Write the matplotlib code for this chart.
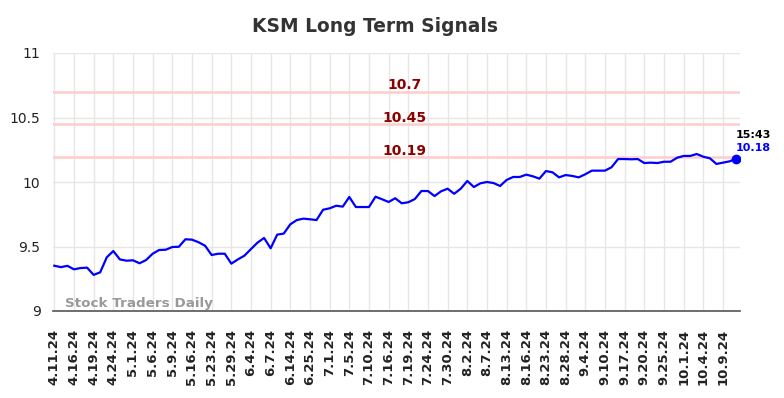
import matplotlib.pyplot as plt
import matplotlib.transforms as mtransforms

# DATOS

tick_labels = ['4.11.24', '4.16.24', '4.19.24', '4.24.24', '5.1.24', '5.6.24', '5.9.24',
               '5.16.24', '5.23.24', '5.29.24', '6.4.24', '6.7.24', '6.14.24', '6.25.24',
               '7.1.24', '7.5.24', '7.10.24', '7.16.24', '7.19.24', '7.24.24', '7.30.24',
               '8.2.24', '8.7.24', '8.13.24', '8.16.24', '8.23.24', '8.28.24', '9.4.24',
               '9.10.24', '9.17.24', '9.20.24', '9.25.24', '10.1.24', '10.4.24', '10.9.24']

precios = [9.351, 9.340, 9.350, 9.323, 9.333, 9.336, 9.280, 9.300, 9.416, 9.465,
           9.400, 9.390, 9.393, 9.370, 9.395, 9.444, 9.473, 9.475, 9.496, 9.498,
           9.556, 9.553, 9.533, 9.506, 9.434, 9.444, 9.444, 9.367, 9.400, 9.429,
           9.480, 9.530, 9.566, 9.486, 9.592, 9.600, 9.672, 9.705, 9.716, 9.711,
           9.705, 9.785, 9.796, 9.816, 9.809, 9.884, 9.806, 9.806, 9.806, 9.886,
           9.866, 9.845, 9.874, 9.835, 9.843, 9.868, 9.930, 9.930, 9.891, 9.928,
           9.948, 9.909, 9.948, 10.008, 9.961, 9.990, 10.000, 9.992, 9.969, 10.016,
           10.039, 10.039, 10.057, 10.044, 10.026, 10.085, 10.075, 10.036, 10.054, 10.047,
           10.036, 10.060, 10.088, 10.088, 10.088, 10.114, 10.178, 10.178, 10.176, 10.178,
           10.147, 10.150, 10.147, 10.157, 10.157, 10.188, 10.202, 10.202, 10.217, 10.196,
           10.184, 10.140, 10.150, 10.160, 10.180]

niveles = [10.7, 10.45, 10.19]
hora = '15:43'
ultimo = '10.18'

#-----------------------------------------------------------------#

# PLOT

fig = plt.figure(figsize=(7.84, 3.98), dpi=100)
ax = fig.add_axes([53 / 784, 1 - 311 / 398, 687 / 784, 258 / 398])

x = list(range(len(precios)))
ax.plot(x, precios, color='#0000ff', lw=1.6, zorder=3)
ax.plot(x[-1], precios[-1], 'o', color='#0000ff', ms=6, zorder=4)

# Lineas de niveles
trans = mtransforms.blended_transform_factory(ax.transAxes, ax.transData)
for nivel in niveles:
    ax.axhline(nivel, color='#ffcccc', lw=1.8, zorder=2)
    ax.text(0.512, nivel - 0.005, str(nivel), transform=trans,
            ha='center', va='bottom', color='#8b0000', fontsize=10, fontweight='bold')

ax.set_ylim(9, 11)
ax.set_xlim(-0.2, 104.6)
ax.set_yticks([9, 9.5, 10, 10.5, 11])
ax.set_yticklabels(['9', '9.5', '10', '10.5', '11'])
ax.set_xticks(x[::3])
ax.set_xticklabels(tick_labels, rotation=90, fontsize=9.5, fontweight='bold', color='#222222')

ax.grid(True, color='#e6e6e6', lw=1, zorder=0)
ax.tick_params(axis='y', length=0, labelsize=10, colors='#222222', pad=9)
ax.tick_params(axis='x', length=0, pad=13)
for lado in ['left', 'right', 'top']:
    ax.spines[lado].set_visible(False)
ax.spines['bottom'].set_color('#555555')
ax.spines['bottom'].set_linewidth(1.2)

# Anotacion final
ax.annotate(hora, xy=(x[-1], precios[-1]), xytext=(0, 17.3), textcoords='offset points',
            ha='left', va='center', fontsize=8, fontweight='bold', color='black')
ax.annotate(ultimo, xy=(x[-1], precios[-1]), xytext=(0, 8), textcoords='offset points',
            ha='left', va='center', fontsize=8, fontweight='bold', color='#0000ff')

ax.text(0.018, 0.005, 'Stock Traders Daily', transform=ax.transAxes, fontsize=9.7,
        fontweight='bold', color='#999999', ha='left', va='bottom')

fig.text(375 / 784, 1 - 26 / 398, 'KSM Long Term Signals', ha='center', va='center',
         fontsize=13.4, fontweight='bold', color='#333333')

fig.savefig('out.png', dpi=100)
